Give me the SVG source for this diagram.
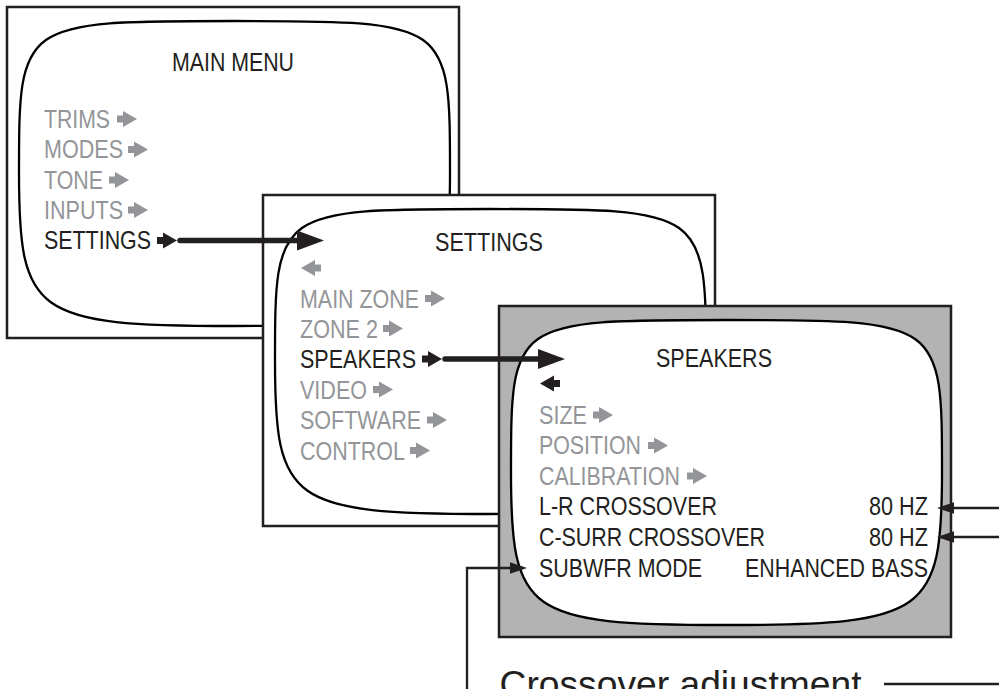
<svg xmlns="http://www.w3.org/2000/svg" xmlns:xlink="http://www.w3.org/1999/xlink" width="999" height="689" viewBox="0 0 999 689">
<style>
text{font-family:"Liberation Sans",Arial,Helvetica,sans-serif;font-size:26px}
.d{fill:#231f20}
.g{fill:#939598}
.frame{fill:#fff;stroke:#231f20;stroke-width:2.5}
.gray{fill:#b3b3b3}
.screen{fill:#fff;stroke:#000;stroke-width:2.3}
.thick{stroke:#231f20;stroke-width:5.5;fill:none;stroke-linecap:round}
.thin{stroke:#231f20;stroke-width:2.3;fill:none}
.cap{font-size:37px}
</style>
<defs>
<path id="scr" d="M227.5,14 C443,14 443,14 443,166.5 C443,308 428,319 227.5,319 C27,319 12,308 12,166.5 C12,14 12,14 227.5,14 Z"/>
<path id="ar" d="M0,-3.5 H6 V-8 L20,0 L6,8 V3.5 H0 Z"/>
<marker id="big" markerUnits="userSpaceOnUse" viewBox="0 0 28 20" markerWidth="28" markerHeight="20" refX="3" refY="10" orient="auto"><path d="M0,0 L27,10 L0,20 Z" fill="#231f20"/></marker>
<marker id="sm" markerUnits="userSpaceOnUse" viewBox="0 0 18 11.5" markerWidth="18" markerHeight="11.5" refX="13" refY="5.75" orient="auto"><path d="M0,0 L17,5.75 L0,11.5 Z" fill="#231f20"/></marker>
</defs>

<g id="main-menu">
<rect class="frame" x="7" y="7" width="452" height="331"/>
<use href="#scr" x="7" y="7" class="screen"/>
<text class="d" x="172" y="71" textLength="122" lengthAdjust="spacingAndGlyphs">MAIN MENU</text>
<text class="g" x="44" y="128" textLength="66" lengthAdjust="spacingAndGlyphs">TRIMS</text>
<use href="#ar" x="117" y="119" class="g"/>
<text class="g" x="44" y="158" textLength="79" lengthAdjust="spacingAndGlyphs">MODES</text>
<use href="#ar" x="128" y="149.5" class="g"/>
<text class="g" x="44" y="188.5" textLength="59" lengthAdjust="spacingAndGlyphs">TONE</text>
<use href="#ar" x="109" y="180" class="g"/>
<text class="g" x="44" y="218.5" textLength="79" lengthAdjust="spacingAndGlyphs">INPUTS</text>
<use href="#ar" x="128" y="210" class="g"/>
<text class="d" x="44" y="248.5" textLength="107" lengthAdjust="spacingAndGlyphs">SETTINGS</text>
<use href="#ar" x="157" y="240.5" class="d"/>
</g>

<g id="settings-menu">
<rect class="frame" x="263" y="195" width="452" height="331"/>
<use href="#scr" x="263" y="195" class="screen"/>
<text class="d" x="435" y="251" textLength="108" lengthAdjust="spacingAndGlyphs">SETTINGS</text>
<use href="#ar" transform="translate(321,268) scale(-1,1)" class="g"/>
<text class="g" x="300" y="307.5" textLength="119" lengthAdjust="spacingAndGlyphs">MAIN ZONE</text>
<use href="#ar" x="425" y="298.5" class="g"/>
<text class="g" x="300" y="337.5" textLength="78" lengthAdjust="spacingAndGlyphs">ZONE 2</text>
<use href="#ar" x="383" y="328.5" class="g"/>
<text class="d" x="300" y="368" textLength="116" lengthAdjust="spacingAndGlyphs">SPEAKERS</text>
<use href="#ar" x="422" y="359" class="d"/>
<text class="g" x="300" y="398.5" textLength="67" lengthAdjust="spacingAndGlyphs">VIDEO</text>
<use href="#ar" x="373" y="389.5" class="g"/>
<text class="g" x="300" y="429" textLength="121" lengthAdjust="spacingAndGlyphs">SOFTWARE</text>
<use href="#ar" x="427" y="420" class="g"/>
<text class="g" x="300" y="459.5" textLength="105" lengthAdjust="spacingAndGlyphs">CONTROL</text>
<use href="#ar" x="410" y="450.5" class="g"/>
</g>

<g id="speakers-menu">
<rect class="frame gray" x="499" y="306" width="452" height="331"/>
<use href="#scr" x="499" y="306" class="screen"/>
<text class="d" x="656" y="367" textLength="116" lengthAdjust="spacingAndGlyphs">SPEAKERS</text>
<use href="#ar" transform="translate(560,383.5) scale(-1,1)" class="d"/>
<text class="g" x="539" y="423.5" textLength="48" lengthAdjust="spacingAndGlyphs">SIZE</text>
<use href="#ar" x="593" y="415" class="g"/>
<text class="g" x="539" y="454" textLength="102" lengthAdjust="spacingAndGlyphs">POSITION</text>
<use href="#ar" x="648" y="445.5" class="g"/>
<text class="g" x="539" y="484.5" textLength="141" lengthAdjust="spacingAndGlyphs">CALIBRATION</text>
<use href="#ar" x="687" y="476" class="g"/>
<text class="d" x="539" y="515" textLength="178" lengthAdjust="spacingAndGlyphs">L-R CROSSOVER</text>
<text class="d" x="869" y="515" textLength="59" lengthAdjust="spacingAndGlyphs">80 HZ</text>
<text class="d" x="539" y="546" textLength="226" lengthAdjust="spacingAndGlyphs">C-SURR CROSSOVER</text>
<text class="d" x="869" y="546" textLength="59" lengthAdjust="spacingAndGlyphs">80 HZ</text>
<text class="d" x="539" y="576.5" textLength="163" lengthAdjust="spacingAndGlyphs">SUBWFR MODE</text>
<text class="d" x="745" y="576.5" textLength="183" lengthAdjust="spacingAndGlyphs">ENHANCED BASS</text>
</g>

<g id="connectors">
<path class="thick" d="M180,240.5 H300" marker-end="url(#big)"/>
<path class="thick" d="M445,359 H541" marker-end="url(#big)"/>
<path class="thin" d="M1001,508 H941" marker-end="url(#sm)"/>
<path class="thin" d="M1001,537 H941" marker-end="url(#sm)"/>
<path class="thin" d="M467,692 V568 H523" marker-end="url(#sm)"/>
<path class="thin" d="M884,684 H1001"/>
</g>

<g id="caption">
<text class="d cap" x="499.5" y="696.5" textLength="362" lengthAdjust="spacingAndGlyphs">Crossover adjustment</text>
</g>
</svg>
